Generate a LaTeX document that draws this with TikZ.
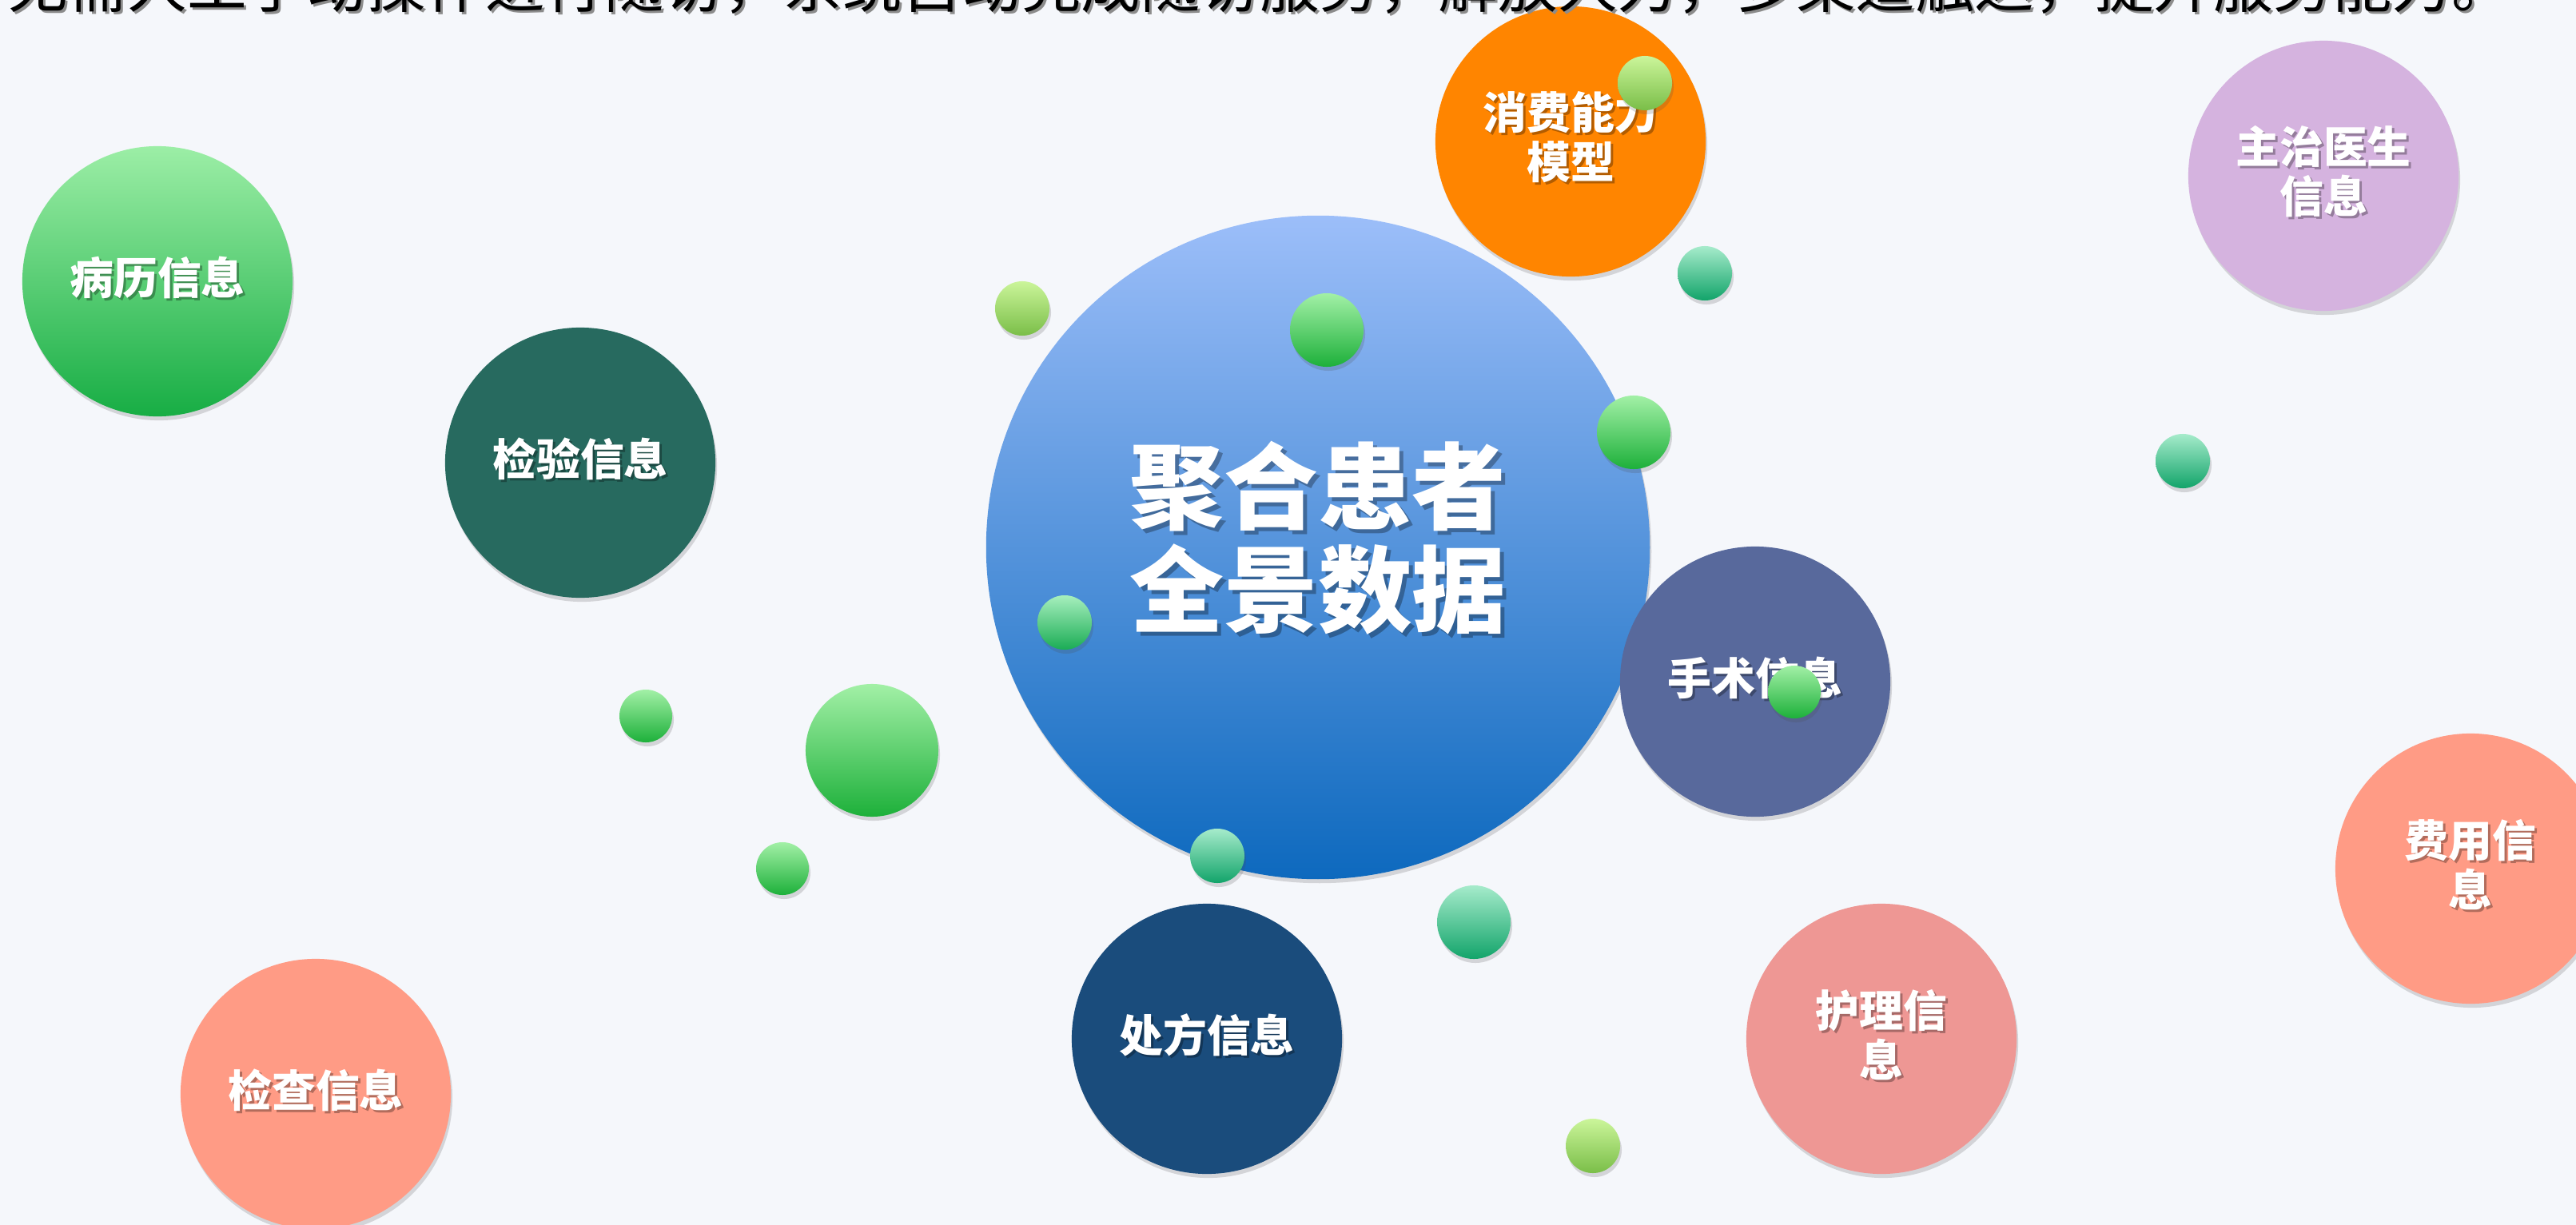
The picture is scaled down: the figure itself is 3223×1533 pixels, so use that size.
\documentclass[tikz,border=0pt]{standalone}
\usepackage{fontspec}
\setmainfont{Noto Sans CJK SC}
\usetikzlibrary{shadows}
\definecolor{bg}{HTML}{F5F7FB}
\definecolor{cTop}{HTML}{9CBEF9}
\definecolor{cMid}{HTML}{6FA3EA}
\definecolor{cBot}{HTML}{0D69BE}
\definecolor{gTop}{HTML}{A2F0A6}
\definecolor{gBot}{HTML}{1DB03A}
\definecolor{yTop}{HTML}{CBF59A}
\definecolor{yBot}{HTML}{7ABE48}
\definecolor{tTop}{HTML}{A6EBCB}
\definecolor{tBot}{HTML}{12A46A}
\definecolor{mTop}{HTML}{A6EFBD}
\definecolor{mBot}{HTML}{1BAC55}
\definecolor{bingli1}{HTML}{9CEEA6}
\definecolor{bingli2}{HTML}{17AD44}
\definecolor{jianyan}{HTML}{276A5F}
\definecolor{xiaofei}{HTML}{FF8500}
\definecolor{zhuzhi}{HTML}{D5B3DF}
\definecolor{shoushu}{HTML}{58699C}
\definecolor{feiyong}{HTML}{FF9B85}
\definecolor{huli}{HTML}{EE9794}
\definecolor{chufang}{HTML}{1A4C7C}
\definecolor{jiancha}{HTML}{FF9B85}
\tikzset{
  softshadow/.style={drop shadow={shadow xshift=0.02cm, shadow yshift=-0.05cm, opacity=0.2, fill=black!70}},
  bubble/.style={circle, inner sep=0pt, minimum size=3.38cm, softshadow},
  lbltext/.style={align=center, inner sep=0pt, text=white, font=\bfseries\fontsize{15.6}{17.6}\selectfont},
  lblshadow/.style={lbltext, text=black, text opacity=0.3},
  ball/.style={circle, inner sep=0pt, draw=none, softshadow},
  ballG/.style={ball, top color=gTop, bottom color=gBot},
  ballY/.style={ball, top color=yTop, bottom color=yBot},
  ballT/.style={ball, top color=tTop, bottom color=tBot},
  ballM/.style={ball, top color=mTop, bottom color=mBot},
}
\newcommand\mybubble[5]{%
  \node[bubble, #4] (#1) at (#2,#3) {};
  \node[lblshadow] (#1-s) at ([shift={(3,-2)}]#1.center) {#5};
  \node[lbltext] (#1-t) at ([shift={(0,-5)}]#1.center) {#5};
}
\begin{document}
\begin{tikzpicture}[x=0.01cm,y=-0.01cm]
\path[use as bounding box] (0,0) rectangle (3223,1533);
\fill[bg] (0,0) rectangle (3223,1533);
\clip (0,0) rectangle (3223,1533);

% central bubble
\node[circle, inner sep=0pt, minimum size=8.3cm, top color=cTop, middle color=cMid, bottom color=cBot, softshadow] (core) at (1649,685) {};
\node[lbltext, text=black, text opacity=0.3, font=\bfseries\fontsize{33.5}{36.7}\selectfont] (core-s) at ([shift={(5,-7)}]core.center) {聚合患者\\全景数据};
\node[lbltext, font=\bfseries\fontsize{33.5}{36.7}\selectfont] (core-t) at ([shift={(0,-12)}]core.center) {聚合患者\\全景数据};

% outer bubbles
\mybubble{bingli}{197}{352}{top color=bingli1, bottom color=bingli2}{病历信息}
\mybubble{jianyan}{726}{579}{fill=jianyan}{检验信息}
\mybubble{xiaofei}{1965}{177}{fill=xiaofei}{消费能力\\模型}
\mybubble{zhuzhi}{2907}{220}{fill=zhuzhi}{主治医生\\信息}
\mybubble{shoushu}{2196}{853}{fill=shoushu}{手术信息}
\mybubble{feiyong}{3091}{1087}{fill=feiyong}{费用信\\息}
\mybubble{huli}{2354}{1300}{fill=huli}{护理信\\息}
\mybubble{chufang}{1510}{1300}{fill=chufang}{处方信息}
\mybubble{jiancha}{395}{1369}{fill=jiancha}{检查信息}

% small spheres
\node[ballY, minimum size=0.68cm] (b1) at (1279,386) {};
\node[ballG, minimum size=0.92cm] (b2) at (1660,413) {};
\node[ballY, minimum size=0.68cm] (b3) at (2058,104) {};
\node[ballT, minimum size=0.68cm] (b4) at (2133,342) {};
\node[ballG, minimum size=0.92cm] (b5) at (2044,541) {};
\node[ballM, minimum size=0.68cm] (b6) at (1332,779) {};
\node[ballT, minimum size=0.68cm] (b7) at (2731,577) {};
\node[ballG, minimum size=0.66cm] (b8) at (808,896) {};
\node[ballG, minimum size=1.66cm] (b9) at (1091,939) {};
\node[ballG, minimum size=0.66cm] (b10) at (979,1087) {};
\node[ballT, minimum size=0.68cm] (b11) at (1523,1071) {};
\node[ballT, minimum size=0.92cm] (b12) at (1844,1154) {};
\node[ballG, minimum size=0.66cm] (b13) at (2245,866) {};
\node[ballY, minimum size=0.68cm] (b14) at (1993,1434) {};

% top caption (cut off by the upper edge, as in the reference)
\node[anchor=base west, inner sep=0pt, text=black!45, font=\fontsize{21.2}{21.2}\selectfont] (cap-s) at (13,12) {无需人工手动操作进行随访，系统自动完成随访服务，解放人力，多渠道触达，提升服务能力。};
\node[anchor=base west, inner sep=0pt, text=black, font=\fontsize{21.2}{21.2}\selectfont] (cap) at (10,10) {无需人工手动操作进行随访，系统自动完成随访服务，解放人力，多渠道触达，提升服务能力。};
\end{tikzpicture}
\end{document}
